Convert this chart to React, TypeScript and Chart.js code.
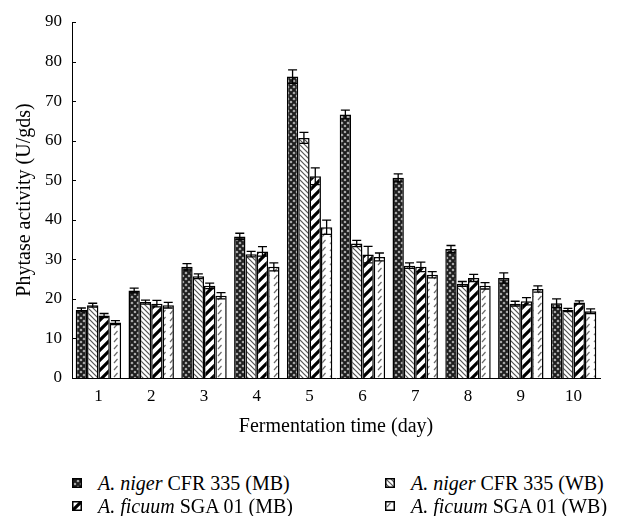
import React, { useEffect, useRef } from 'react';
import { Chart, registerables } from 'chart.js';

Chart.register(...registerables);

const days = ['1', '2', '3', '4', '5', '6', '7', '8', '9', '10'];
const nigerMB = [17.2, 22.1, 28.1, 35.8, 76.2, 66.6, 50.6, 32.6, 25.3, 18.9];
const nigerWB = [18.4, 19.2, 25.7, 31.3, 60.7, 34.0, 28.4, 23.8, 18.8, 17.2];
const ficuumMB = [15.8, 18.8, 23.3, 32.0, 51.0, 31.2, 28.1, 25.3, 19.4, 19.1];
const ficuumWB = [14.0, 18.4, 20.8, 28.1, 38.1, 30.6, 26.1, 23.3, 22.5, 16.9];
const nigerMBErr = [0.5, 0.6, 0.8, 0.8, 1.7, 1.1, 1.0, 0.9, 1.3, 1.1];
const nigerWBErr = [0.5, 0.5, 0.6, 0.7, 1.4, 0.8, 0.7, 0.6, 0.6, 0.4];
const ficuumMBErr = [0.5, 0.8, 0.7, 1.2, 2.1, 2.1, 1.2, 0.9, 0.9, 0.4];
const ficuumWBErr = [0.5, 0.7, 0.8, 1.0, 1.8, 1.0, 0.8, 0.8, 0.8, 0.6];
const yMin = 0;
const yMax = 90;
const yStep = 10;

const FONT = '"Liberation Serif", "DejaVu Serif", serif';

const seriesInfo = [
  { species: 'A. niger', rest: ' CFR 335 (MB)' },
  { species: 'A. niger', rest: ' CFR 335 (WB)' },
  { species: 'A. ficuum', rest: ' SGA 01 (MB)' },
  { species: 'A. ficuum', rest: ' SGA 01 (WB)' },
];

function makeTile(kind: number): HTMLCanvasElement {
  const c = document.createElement('canvas');
  const ctx = c.getContext('2d')!;
  if (kind === 0) {
    c.width = 6; c.height = 6;
    ctx.fillStyle = '#b8b8b8';
    ctx.fillRect(0, 0, 6, 6);
    ctx.strokeStyle = '#1e1e1e';
    ctx.lineWidth = 2.1;
    ctx.beginPath();
    ctx.moveTo(-1, -1); ctx.lineTo(7, 7);
    ctx.moveTo(7, -1); ctx.lineTo(-1, 7);
    ctx.stroke();
    ctx.fillStyle = '#1e1e1e';
    ctx.fillRect(2, 2, 2, 2);
  } else if (kind === 1) {
    c.width = 5; c.height = 5;
    ctx.fillStyle = '#ffffff';
    ctx.fillRect(0, 0, 5, 5);
    ctx.strokeStyle = '#555';
    ctx.lineWidth = 1.2;
    ctx.beginPath();
    ctx.moveTo(-1, -1); ctx.lineTo(6, 6);
    ctx.moveTo(-1, 4); ctx.lineTo(1, 6);
    ctx.moveTo(4, -1); ctx.lineTo(6, 1);
    ctx.stroke();
  } else if (kind === 2) {
    c.width = 10; c.height = 10;
    ctx.fillStyle = '#ffffff';
    ctx.fillRect(0, 0, 10, 10);
    ctx.strokeStyle = '#000';
    ctx.lineWidth = 3.2;
    ctx.beginPath();
    ctx.moveTo(-1, 11); ctx.lineTo(11, -1);
    ctx.moveTo(-3, 3); ctx.lineTo(3, -3);
    ctx.moveTo(7, 13); ctx.lineTo(13, 7);
    ctx.stroke();
  } else {
    c.width = 8; c.height = 7;
    ctx.fillStyle = '#ffffff';
    ctx.fillRect(0, 0, 8, 7);
    ctx.strokeStyle = '#6a6a6a';
    ctx.lineWidth = 1.2;
    ctx.beginPath();
    ctx.moveTo(2, 6); ctx.lineTo(5.5, 2);
    ctx.stroke();
  }
  return c;
}

function makePattern(ctx: CanvasRenderingContext2D, kind: number): CanvasPattern {
  return ctx.createPattern(makeTile(kind), 'repeat')!;
}

function LegendMarker({ kind }: { kind: number }) {
  const ref = useRef<HTMLCanvasElement>(null);
  useEffect(() => {
    const cv = ref.current!;
    const ctx = cv.getContext('2d')!;
    ctx.clearRect(0, 0, 10, 10);
    ctx.fillStyle = makePattern(ctx, kind);
    ctx.fillRect(0, 0, 10, 10);
    ctx.strokeStyle = '#000';
    ctx.lineWidth = 1.5;
    ctx.strokeRect(0.75, 0.75, 8.5, 8.5);
  }, [kind]);
  return <canvas ref={ref} width={10} height={10} style={{ position: 'absolute', left: 0, top: 6, width: 10, height: 10 }} />;
}

export default function App() {
  const canvasRef = useRef<HTMLCanvasElement>(null);

  useEffect(() => {
    const canvas = canvasRef.current!;
    const ctx = canvas.getContext('2d')!;
    const values = [nigerMB, nigerWB, ficuumMB, ficuumWB];
    const errors = [nigerMBErr, nigerWBErr, ficuumMBErr, ficuumWBErr];

    const errorBars = {
      id: 'errorBars',
      afterDatasetsDraw(chart: any) {
        const c = chart.ctx;
        const ys = chart.scales.y;
        chart.data.datasets.forEach((ds: any, i: number) => {
          const meta = chart.getDatasetMeta(i);
          meta.data.forEach((bar: any, j: number) => {
            const v = ds.data[j];
            const e = errors[i][j];
            const x = bar.x;
            const yt = ys.getPixelForValue(v + e);
            const yb = ys.getPixelForValue(v - e);
            c.save();
            c.strokeStyle = '#000';
            c.lineWidth = 1.3;
            c.beginPath();
            c.moveTo(x, yt); c.lineTo(x, yb);
            c.moveTo(x - 4.5, yt); c.lineTo(x + 4.5, yt);
            c.moveTo(x - 4.5, yb); c.lineTo(x + 4.5, yb);
            c.stroke();
            c.restore();
          });
        });
      },
    };

    const innerTicks = {
      id: 'innerTicks',
      afterDraw(chart: any) {
        const c = chart.ctx;
        const ys = chart.scales.y;
        const left = chart.chartArea.left;
        c.save();
        c.strokeStyle = '#000';
        c.lineWidth = 1;
        ys.ticks.forEach((t: any) => {
          const py = Math.round(ys.getPixelForValue(t.value)) + 0.5;
          c.beginPath();
          c.moveTo(left, py);
          c.lineTo(left + 4, py);
          c.stroke();
        });
        c.restore();
      },
    };

    const chart = new Chart(ctx, {
      type: 'bar',
      data: {
        labels: days,
        datasets: values.map((d, i) => ({
          label: seriesInfo[i].species + seriesInfo[i].rest,
          data: d,
          backgroundColor: makePattern(ctx, i),
          borderColor: '#000',
          borderWidth: 1.5,
          barPercentage: 1,
          categoryPercentage: 0.86,
        })),
      },
      options: {
        responsive: false,
        animation: false,
        devicePixelRatio: 1,
        layout: { padding: { left: 0, right: 17, top: 22, bottom: 0 } },
        plugins: {
          legend: { display: false },
          tooltip: { enabled: false },
        },
        scales: {
          x: {
            grid: { display: false, drawTicks: false },
            border: { display: true, color: '#000', width: 1 },
            ticks: { color: '#000', padding: 8, font: { family: FONT, size: 17 } },
            title: {
              display: true,
              text: 'Fermentation time (day)',
              color: '#000',
              font: { family: FONT, size: 20 },
              padding: { top: 0, bottom: 6 },
            },
            afterFit(scale: any) { scale.height = 67; },
          },
          y: {
            min: yMin,
            max: yMax,
            grid: { display: false, drawTicks: false },
            border: { display: true, color: '#000', width: 1 },
            ticks: { stepSize: yStep, color: '#000', padding: 10, font: { family: FONT, size: 17 } },
            title: {
              display: true,
              text: 'Phytase activity (U/gds)',
              color: '#000',
              font: { family: FONT, size: 20 },
              padding: { top: 13, bottom: 0 },
            },
            afterFit(scale: any) { scale.width = 72; },
          },
        },
      },
      plugins: [errorBars, innerTicks],
    });
    return () => chart.destroy();
  }, []);

  const legendPos = [
    { left: 72, top: 472 },
    { left: 385, top: 472 },
    { left: 72, top: 495 },
    { left: 385, top: 495 },
  ];

  return (
    <div style={{ position: 'fixed', left: 0, top: 0, width: 617, height: 516, background: '#fff' }}>
      <canvas ref={canvasRef} width={617} height={445} style={{ position: 'absolute', left: 0, top: 0, width: 617, height: 445 }} />
      {seriesInfo.map((s, i) => (
        <div
          key={i}
          style={{
            position: 'absolute',
            left: legendPos[i].left,
            top: legendPos[i].top,
            height: 22,
            whiteSpace: 'nowrap',
            fontFamily: FONT,
            fontSize: 20,
            lineHeight: '22px',
            color: '#000',
          }}
        >
          <LegendMarker kind={i} />
          <span style={{ marginLeft: 26 }}>
            <i>{s.species}</i>{s.rest}
          </span>
        </div>
      ))}
    </div>
  );
}
